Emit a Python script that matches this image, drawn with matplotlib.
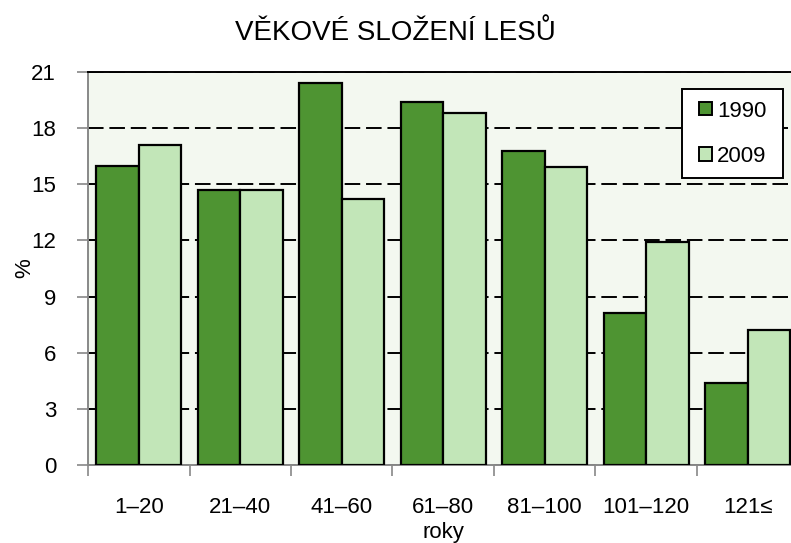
import matplotlib
matplotlib.use("Agg")
import matplotlib.pyplot as plt
import numpy as np
from matplotlib.patches import Patch, Rectangle
from matplotlib.legend_handler import HandlerPatch

categories = ["1–20", "21–40", "41–60", "61–80", "81–100", "101–120", "121≤"]
values_1990 = [16.0, 14.7, 20.4, 19.4, 16.8, 8.1, 4.4]
values_2009 = [17.1, 14.7, 14.2, 18.8, 15.9, 11.9, 7.2]
series_labels = ["1990", "2009"]
yticks = [0, 3, 6, 9, 12, 15, 18, 21]

plt.rcParams['font.family'] = ['Liberation Sans', 'DejaVu Sans']

fig = plt.figure(figsize=(7.91, 5.43), dpi=100)
ax = fig.add_axes([88/791, (543-465)/543, 710.5/791, 393/543])
ax.set_facecolor('#F3F8F0')

x = np.arange(len(categories))
w = 0.42
c1 = '#4E9432'
c2 = '#C2E6B8'
ax.bar(x - w/2, values_1990, w, color=c1, edgecolor='black', linewidth=1.6, zorder=3)
ax.bar(x + w/2, values_2009, w, color=c2, edgecolor='black', linewidth=1.6, zorder=3)

ax.set_xlim(-0.5, len(categories) - 0.5)
ax.set_ylim(0, 21)
ax.set_yticks(yticks)
ax.set_yticklabels([str(t) for t in yticks], fontsize=16)
ax.yaxis.grid(True, color='black', linestyle=(0, (8, 3)), linewidth=1.4, zorder=1)
ax.set_axisbelow(True)

ax.set_xticks(np.arange(len(categories) + 1) - 0.5)
ax.set_xticklabels([])
ax.set_xticks(x, minor=True)
ax.set_xticklabels(categories, minor=True, fontsize=16)
ax.tick_params(axis='x', which='minor', length=0, pad=23)
ax.tick_params(axis='x', which='major', length=8, color='#888888', width=1.2)
ax.tick_params(axis='y', length=8, color='#888888', width=1.2, pad=15)

for s in ['left', 'bottom']:
    ax.spines[s].set_color('#888888')
    ax.spines[s].set_linewidth(1.4)
ax.spines['top'].set_color('black')
ax.spines['top'].set_linewidth(1.4)
ax.spines['right'].set_visible(False)

ax.set_xlabel("roky", fontsize=16)
ax.xaxis.set_label_coords((443-88)/710.5, (465-522)/393)
ax.set_ylabel("%", fontsize=16)
ax.yaxis.set_label_coords((35-88)/710.5, 0.5)

fig.text(0.5, 1 - 33/543, "VĚKOVÉ SLOŽENÍ LESŮ", ha='center', va='center', fontsize=20)


def square_patch(legend, orig_handle, xdescent, ydescent, width, height, fontsize):
    side = 0.6 * fontsize
    return Rectangle((width - side - xdescent, -ydescent + (height - side) / 2), side, side)


handles = [Patch(facecolor=c1, edgecolor='black', linewidth=1.4),
           Patch(facecolor=c2, edgecolor='black', linewidth=1.4)]
leg = ax.legend(handles, series_labels, loc='upper left',
                bbox_to_anchor=((682-88)/710.5, (465-93)/393, 101/710.5, 0.01),
                mode='expand',
                handler_map={Patch: HandlerPatch(patch_func=square_patch)},
                fontsize=16, frameon=True, fancybox=False, edgecolor='black',
                framealpha=1, handlelength=0.85, handleheight=0.6,
                handletextpad=0.2, labelspacing=1.09, borderpad=0.52,
                borderaxespad=0)
leg.get_frame().set_linewidth(1.4)
leg.set_zorder(5)

fig.savefig("out.png", dpi=100)
